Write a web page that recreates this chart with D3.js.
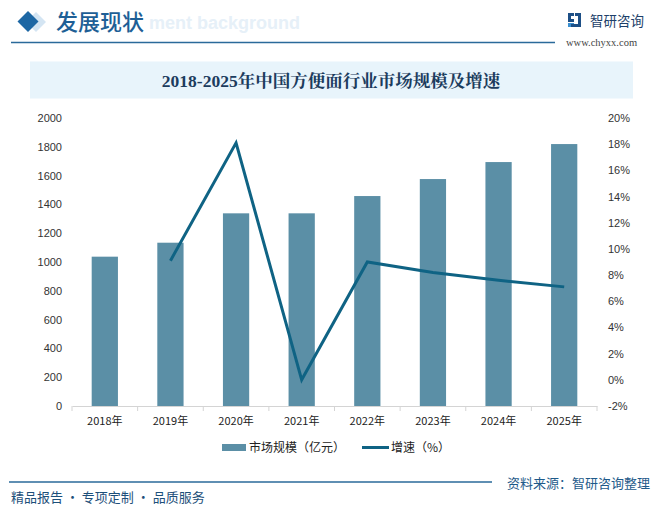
<!DOCTYPE html>
<html><head><meta charset="utf-8">
<script src="https://cdn.jsdelivr.net/npm/d3@7"></script>
<style>
html,body{margin:0;padding:0;background:#fff;}
svg{display:block;}
</style></head>
<body>
<svg id="chart" width="657" height="508"></svg>
<script>
const categories = ["2018年","2019年","2020年","2021年","2022年","2023年","2024年","2025年"];
const marketSize = [1037, 1134, 1338, 1338, 1458, 1576, 1694, 1819];
const growth = [null, 9.1, 18.1, 0.0, 9.0, 8.2, 7.6, 7.1];
const leftTicks = [0,200,400,600,800,1000,1200,1400,1600,1800,2000];
const rightTicks = [-2,0,2,4,6,8,10,12,14,16,18,20];
const titleText = "2018-2025年中国方便面行业市场规模及增速";
const legendLabels = ["市场规模（亿元）","增速（%）"];

const svg = d3.select("#chart");
const barColor = "#5b8fa6", lineColor = "#0f6384";
const cjk = "'Noto Sans CJK SC','Noto Sans',sans-serif";

// header
svg.append("path").attr("d","M36,12 L46,22 L36,32 L26,22 Z").attr("fill","#c9dff0").attr("opacity",0.8);
svg.append("path").attr("d","M28,11 L38.5,21.5 L28,32 L17.5,21.5 Z").attr("fill","#1d67a4");
svg.append("text").attr("x",149).attr("y",29).text("ment background")
  .attr("font-family","'Liberation Sans',Arial,sans-serif").attr("font-weight","bold")
  .attr("font-size",18).attr("fill","#e6f0f8");
svg.append("text").attr("x",56).attr("y",30).text("发展现状")
  .attr("font-family",cjk).attr("font-size",22).attr("font-weight",500).attr("fill","#1e5f96");
svg.append("line").attr("x1",11).attr("x2",555).attr("y1",42.5).attr("y2",42.5)
  .attr("stroke","#2a6a9a").attr("stroke-width",1.3);
// logo
const lg = svg.append("g").attr("transform","translate(568,13)");
lg.append("path").attr("d","M0,0 H6 V3 H3 V6 H6 V9 H0 Z").attr("fill","#1d4f86");
lg.append("path").attr("d","M0,10 H6 V14 H0 Z").attr("fill","#3a8fd0");
lg.append("path").attr("d","M7,0 H13 V14 H3 V11 H10 V3 H7 Z").attr("fill","#1d4f86");
svg.append("text").attr("x",590).attr("y",25.5).text("智研咨询")
  .attr("font-family",cjk).attr("font-size",13.5).attr("fill","#1d3f6a");
svg.append("text").attr("x",566).attr("y",45.5).text("www.chyxx.com")
  .attr("font-family","'Liberation Serif','DejaVu Serif',serif").attr("font-size",10.5).attr("fill","#444");

// title banner
svg.append("rect").attr("x",30).attr("y",61.5).attr("width",603).attr("height",37).attr("fill","#e8f4fb");
svg.append("text").attr("x",331).attr("y",86.5).attr("text-anchor","middle").text(titleText)
  .attr("font-family","'Liberation Serif','Noto Serif CJK SC','Noto Sans CJK SC',serif")
  .attr("font-weight","bold").attr("font-size",17.5).attr("fill","#1c3c5e");

// scales
const x = d3.scaleBand().domain(categories).range([72,597]).paddingInner(0.6).paddingOuter(0.3);
const xb = d3.scaleBand().domain(categories).range([72,597]);
const yL = d3.scaleLinear().domain([0,2000]).range([406,118]);
const yR = d3.scaleLinear().domain([-2,20]).range([406,118]);

const tickFont = "'Liberation Sans',Arial,sans-serif";
// left axis
const la = svg.append("g").attr("transform","translate(72,0)")
  .call(d3.axisLeft(yL).tickValues(leftTicks).tickFormat(d3.format("d")).tickSize(0).tickPadding(10));
la.select(".domain").remove();
la.selectAll("text").attr("font-family",tickFont).attr("font-size",11).attr("fill","#333");
// right axis
const ra = svg.append("g").attr("transform","translate(597,0)")
  .call(d3.axisRight(yR).tickValues(rightTicks).tickFormat(d=>d+"%").tickSize(0).tickPadding(11));
ra.select(".domain").remove();
ra.selectAll("text").attr("font-family",tickFont).attr("font-size",11).attr("fill","#333");

// bars
svg.append("g").selectAll("rect").data(marketSize).join("rect")
  .attr("x",(d,i)=>x(categories[i]))
  .attr("width",x.bandwidth())
  .attr("y",d=>yL(d)).attr("height",d=>yL(0)-yL(d))
  .attr("fill",barColor);

// x axis
const xa = svg.append("g").attr("transform","translate(0,406)")
  .call(d3.axisBottom(xb).tickSize(0).tickPadding(11));
xa.select(".domain").attr("stroke","#d4d4d4");
xa.selectAll("text").attr("font-family",cjk).attr("font-size",11).attr("fill","#222");
xa.append("g").selectAll("line").data(d3.range(categories.length+1)).join("line")
  .attr("x1",i=>72+i*xb.step()).attr("x2",i=>72+i*xb.step())
  .attr("y1",0).attr("y2",5).attr("stroke","#d4d4d4");

// line
const pts = growth.map((v,i)=>({v,c:categories[i]})).filter(d=>d.v!==null);
svg.append("path").datum(pts)
  .attr("d",d3.line().x(d=>xb(d.c)+xb.bandwidth()/2).y(d=>yR(d.v)))
  .attr("fill","none").attr("stroke",lineColor).attr("stroke-width",3).attr("stroke-linejoin","miter");

// legend
svg.append("rect").attr("x",222).attr("y",444).attr("width",24).attr("height",7).attr("fill",barColor);
svg.append("text").attr("x",249).attr("y",452).text(legendLabels[0])
  .attr("font-family",cjk).attr("font-size",12).attr("fill","#222");
svg.append("line").attr("x1",362).attr("x2",389).attr("y1",447.5).attr("y2",447.5)
  .attr("stroke",lineColor).attr("stroke-width",3);
svg.append("text").attr("x",391).attr("y",452).text(legendLabels[1])
  .attr("font-family",cjk).attr("font-size",12).attr("fill","#222");

// footer
svg.append("line").attr("x1",9).attr("x2",492).attr("y1",482).attr("y2",482)
  .attr("stroke","#2a6a9a").attr("stroke-width",1.3);
svg.append("text").attr("x",507).attr("y",488).text("资料来源：智研咨询整理")
  .attr("font-family",cjk).attr("font-size",13).attr("fill","#1e5a8a");
svg.append("text").attr("x",11).attr("y",502).text("精品报告 · 专项定制 · 品质服务")
  .attr("font-family",cjk).attr("font-size",13).attr("fill","#1d4f7a");
</script>
</body></html>
